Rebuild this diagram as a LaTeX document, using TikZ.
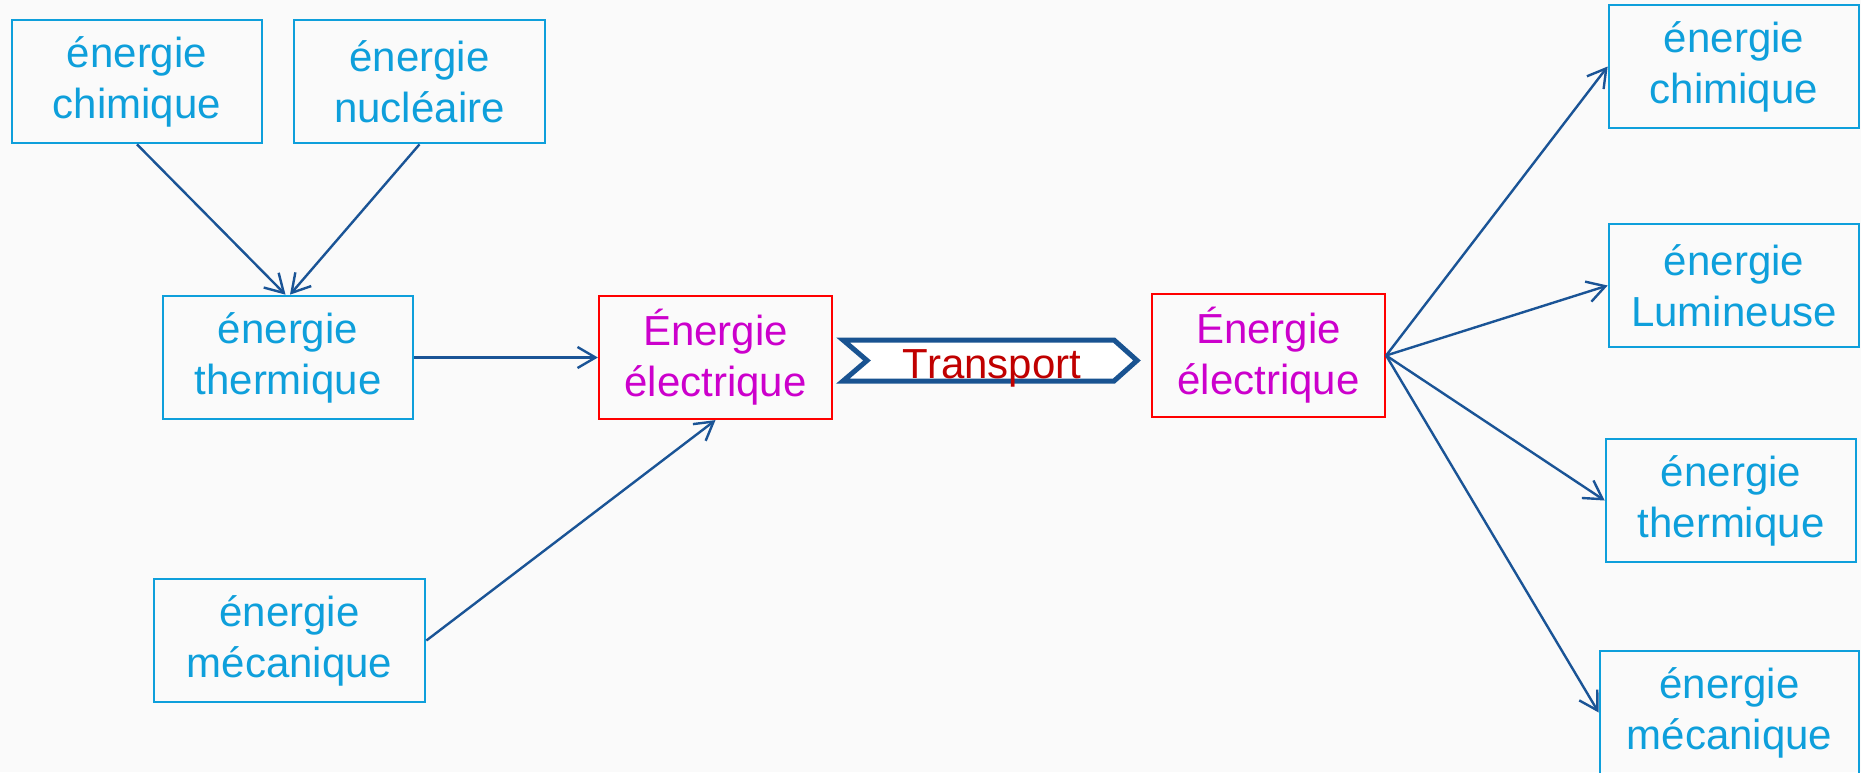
\documentclass[tikz,border=0pt]{standalone}
\usepackage{fontspec}
\setmainfont{Liberation Sans}
\usetikzlibrary{arrows.meta}
\definecolor{boxblue}{HTML}{0E9FDB}
\definecolor{elecmag}{HTML}{CC00CC}
\definecolor{arrowblue}{HTML}{1A5496}
\definecolor{transblue}{HTML}{195391}
\definecolor{transred}{HTML}{C00000}
\definecolor{bgcol}{HTML}{FAFAFA}
\begin{document}
\begin{tikzpicture}[x=0.5pt,y=-0.5pt,
  ebox/.style={draw=boxblue, line width=1.35pt, text=boxblue, minimum height=61.5pt,
    inner sep=0pt, align=center, font=\fontsize{21}{25.5}\selectfont},
  rbox/.style={ebox, draw=red, line width=1.1pt, text=elecmag},
  conn/.style={draw=arrowblue, line width=1.2pt,
    -{Straight Barb[length=9pt,width=10.5pt,line width=1.2pt]}}
]
\useasboundingbox[fill=bgcol] (0,0) rectangle (1861,772);

\node[ebox, minimum width=125pt]   (chimL) at (137,81.5)    {énergie\\chimique};
\node[ebox, minimum width=125.5pt] (nucL)  at (419.5,81.5)  {énergie\\nucléaire};
\node[ebox, minimum width=125pt]   (therL) at (288,357.5)   {énergie\\thermique};
\node[ebox, minimum width=135.5pt] (mecL)  at (289.5,640.5) {énergie\\mécanique};
\node[rbox, minimum width=116.5pt] (elecL) at (715.5,357.5) {Énergie\\électrique};
\node[rbox, minimum width=116.5pt] (elecR) at (1268.5,355.5) {Énergie\\électrique};
\node[ebox, minimum width=125pt]   (chimR) at (1734,66.5)   {énergie\\chimique};
\node[ebox, minimum width=125pt]   (lumR)  at (1734,285.5)  {énergie\\Lumineuse};
\node[ebox, minimum width=125pt]   (therR) at (1731,500.5)  {énergie\\thermique};
\node[ebox, minimum width=129.5pt] (mecR)  at (1729.5,712.5) {énergie\\mécanique};

% Transport chevron
\draw[transblue, line width=2.5pt, fill=white, line join=miter]
  (843,340) -- (1114,340) -- (1137,360.5) -- (1114,381) -- (843,381) -- (867,360.5) -- cycle;
\node[text=transred, anchor=base, inner sep=0pt, font=\fontsize{21}{25.5}\selectfont]
  (trans) at (992,378) {Transport};

% connectors
\draw[conn] (chimL.south) -- ([xshift=-1.25pt]therL.north);
\draw[conn] (nucL.south) -- ([xshift=1pt]therL.north);
\draw[conn] (therL.east) -- (elecL.west);
\draw[conn] (mecL.east) -- (elecL.south);
\draw[conn] (elecR.east) -- (chimR.west);
\draw[conn] (elecR.east) -- (lumR.west);
\draw[conn] (elecR.east) -- (therR.west);
\draw[conn] (elecR.east) -- (mecR.west);
\end{tikzpicture}
\end{document}
